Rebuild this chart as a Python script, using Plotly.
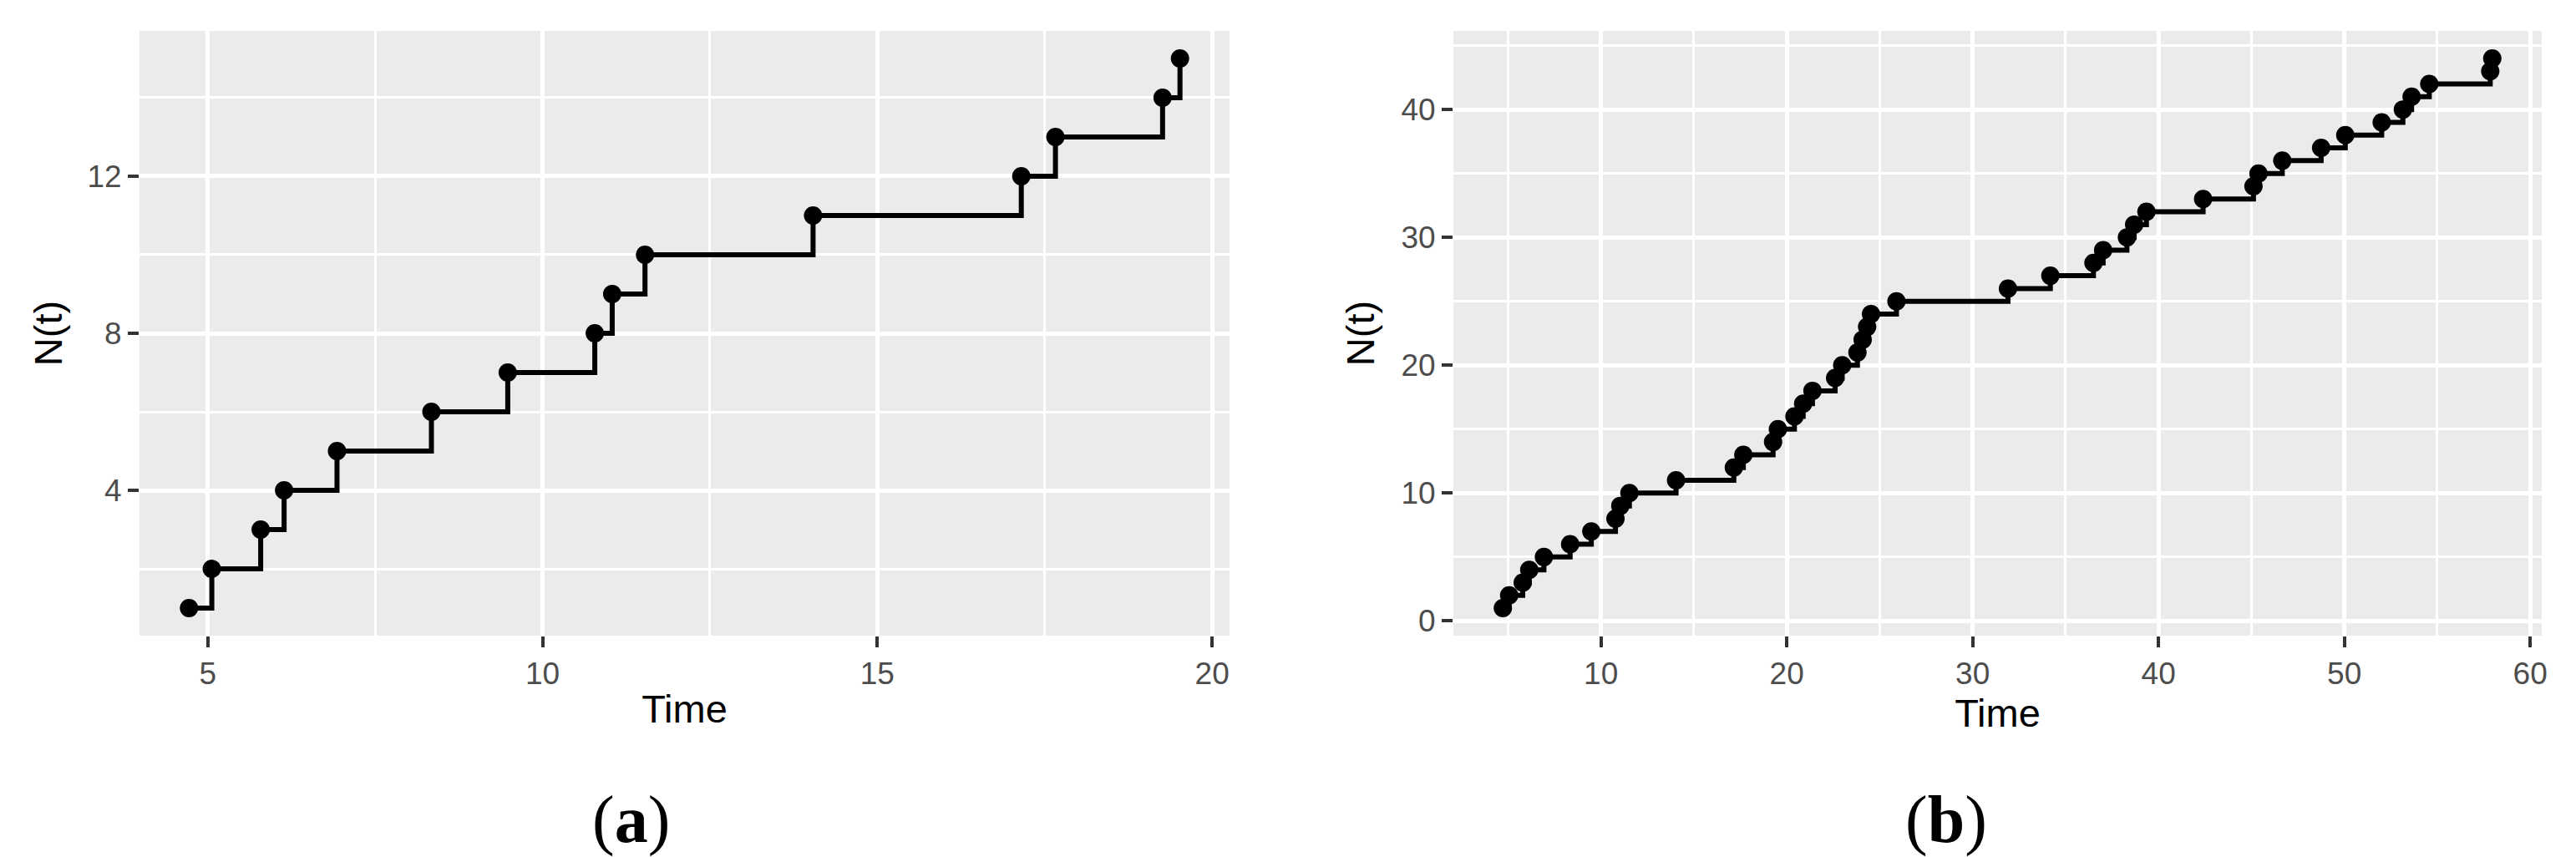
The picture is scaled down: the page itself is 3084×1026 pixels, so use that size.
import plotly.graph_objects as go

# ---- data ----
times_a = [4.72, 5.06, 5.79, 6.14, 6.93, 8.34, 9.48, 10.78, 11.04, 11.53,
           14.04, 17.15, 17.66, 19.26, 19.52]
counts_a = [1, 2, 3, 4, 5, 6, 7, 8, 9, 10, 11, 12, 13, 14, 15]

times_b = [4.72, 5.06, 5.79, 6.14, 6.93, 8.34, 9.48, 10.78, 11.04, 11.53,
           14.04, 17.15, 17.66, 19.26, 19.52, 20.41, 20.88, 21.38, 22.60, 22.98,
           23.80, 24.08, 24.32, 24.53, 25.90, 31.90, 34.18, 36.50, 37.02, 38.30,
           38.69, 39.35, 42.40, 45.11, 45.38, 46.66, 48.75, 50.05, 52.01, 53.15,
           53.62, 54.57, 57.85, 57.96]
counts_b = [1, 2, 3, 4, 5, 6, 7, 8, 9, 10, 11, 12, 13, 14, 15, 16, 17, 18, 19, 20,
            21, 22, 23, 24, 25, 26, 27, 28, 29, 30, 31, 32, 33, 34, 35, 36, 37, 38, 39, 40,
            41, 42, 43, 44]

x_title = "Time"
y_title = "N(t)"
captions = ["(<b>a</b>)", "(<b>b</b>)"]

W, H = 3084, 1026
SANS = "Liberation Sans, Arial, Helvetica, sans-serif"
SERIF = "Liberation Serif, Times New Roman, serif"
TICK_FONT = dict(family=SANS, size=37, color="#4D4D4D")
TITLE_FONT = dict(family=SANS, size=47, color="black")


def expand(vals, frac=0.05):
    lo, hi = min(vals), max(vals)
    d = (hi - lo) * frac
    return [lo - d, hi + d]


fig = go.Figure()
fig.add_trace(go.Scatter(x=times_a, y=counts_a, mode="lines+markers",
                         line=dict(color="black", width=6, shape="hv"),
                         marker=dict(color="black", size=22),
                         xaxis="x", yaxis="y", showlegend=False))
fig.add_trace(go.Scatter(x=times_b, y=counts_b, mode="lines+markers",
                         line=dict(color="black", width=6, shape="hv"),
                         marker=dict(color="black", size=22),
                         xaxis="x2", yaxis="y2", showlegend=False))

ydom = [1 - 753 / H, 1 - 29 / H]
dom_a = [159 / W, 1464 / W]
dom_b = [1732 / W, 3035 / W]


def axis_common():
    return dict(showline=False, zeroline=False, showgrid=True, gridcolor="white",
                gridwidth=4.5, ticks="outside", ticklen=13, tickwidth=4,
                tickcolor="#333333", tickfont=TICK_FONT, automargin=False,
                fixedrange=True)


xa = axis_common()
xa.update(domain=dom_a, range=expand(times_a), tick0=0, dtick=5, anchor="y",
          minor=dict(dtick=2.5, tick0=0, showgrid=True, gridcolor="white", gridwidth=2.5, ticks=""),
          title=dict(text=x_title, font=TITLE_FONT, standoff=5))
ya = axis_common()
ya.update(domain=ydom, range=expand(counts_a), tick0=0, dtick=4, anchor="x",
          minor=dict(dtick=2, tick0=0, showgrid=True, gridcolor="white", gridwidth=2.5, ticks=""),
          title=dict(text=y_title, font=TITLE_FONT, standoff=14))
xb = axis_common()
xb.update(domain=dom_b, range=expand(times_b), tick0=0, dtick=10, anchor="y2",
          minor=dict(dtick=5, tick0=0, showgrid=True, gridcolor="white", gridwidth=2.5, ticks=""),
          title=dict(text=x_title, font=TITLE_FONT, standoff=5))
yb = axis_common()
yb.update(domain=ydom, range=expand(counts_b), tick0=0, dtick=10, anchor="x2",
          minor=dict(dtick=5, tick0=0, showgrid=True, gridcolor="white", gridwidth=2.5, ticks=""),
          title=dict(text=y_title, font=TITLE_FONT, standoff=16))

fig.update_layout(
    width=W, height=H,
    margin=dict(l=0, r=0, t=0, b=0),
    paper_bgcolor="white", plot_bgcolor="#EBEBEB",
    xaxis=xa, yaxis=ya, xaxis2=xb, yaxis2=yb,
    showlegend=False,
    annotations=[
        dict(text=captions[0], x=747 / W, y=1 - 973 / H, xref="paper", yref="paper",
             xanchor="center", yanchor="middle", showarrow=False,
             font=dict(family=SERIF, size=80, color="black")),
        dict(text=captions[1], x=2322 / W, y=1 - 973 / H, xref="paper", yref="paper",
             xanchor="center", yanchor="middle", showarrow=False,
             font=dict(family=SERIF, size=80, color="black")),
    ],
)

fig.write_html("out.html")
